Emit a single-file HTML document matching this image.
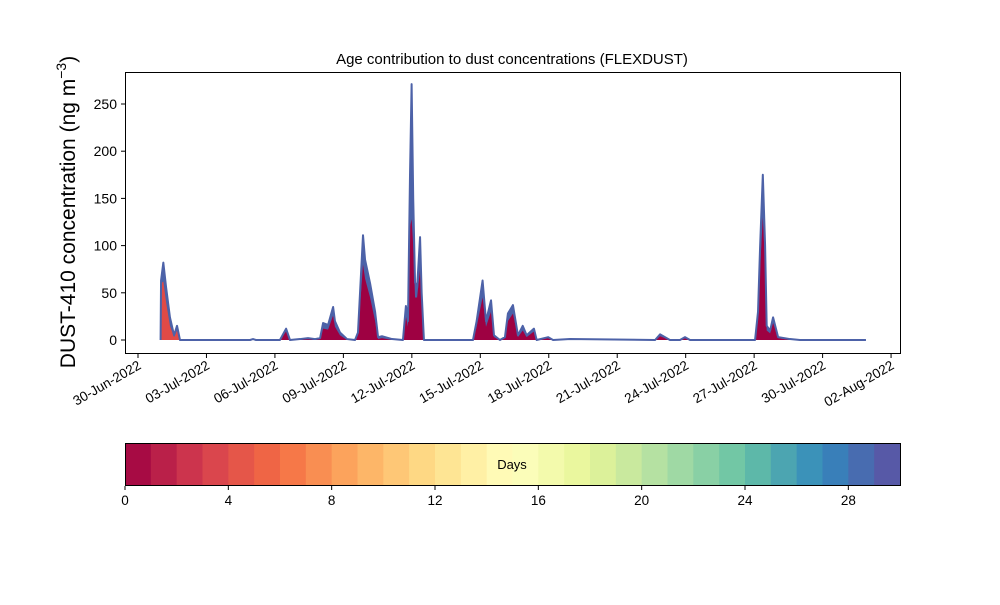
<!DOCTYPE html>
<html><head><meta charset="utf-8"><style>
body{margin:0;background:#fff;width:1000px;height:600px;overflow:hidden}
svg text{font-family:"Liberation Sans",sans-serif}
</style></head><body>
<svg id="chart" width="1000" height="600">
<text x="512" y="64" text-anchor="middle" font-size="15">Age contribution to dust concentrations (FLEXDUST)</text>
<text transform="translate(75,212) rotate(-90)" text-anchor="middle" font-size="21">DUST-410 concentration (ng m<tspan font-size="14" dy="-9">−3</tspan><tspan dy="9">)</tspan></text>
<g id="plot"></g>
<g id="cbar"></g>
</svg>
<script>
// time in days since 30-Jun-2022 00:00
const days=[0.99,1.01,1.11,1.23,1.40,1.58,1.71,1.84,4.91,5.04,5.17,6.22,6.49,6.66,7.10,7.45,7.76,7.98,8.11,8.33,8.55,8.63,8.85,9.16,9.51,9.64,9.86,9.95,10.17,10.39,10.52,10.69,11.13,11.61,11.74,11.83,11.92,11.99,12.06,12.14,12.23,12.36,12.43,12.53,14.68,14.84,15.10,15.25,15.47,15.60,15.86,16.08,16.21,16.43,16.65,16.86,17.03,17.35,17.47,17.97,18.19,18.93,22.66,22.88,23.31,23.75,23.97,24.19,27.04,27.17,27.26,27.38,27.48,27.55,27.70,27.83,28.05,28.57,29.01,31.90];
const total=[0,63,82,56,24,5,15,0,0,1,0,0,12,0,1,2,1,2,18,16,35,20,8,1,0,8,111,85,60,30,3,4,1,0,36,20,175,271,150,61,55,109,50,0,0,20,63,20,42,5,0,3,28,37,5,15,5,12,0,3,0,1,0,6,0,0,3,0,0,30,98,175,100,15,10,24,3,1,0,0];
const young=[0,0,0,0,0,0,0,0,0,0,0,0,9,0,0,1,0,1,12,11,26,14,5,0,0,5,80,65,45,20,1,2,0,0,25,14,120,128,100,45,45,75,35,0,0,14,45,14,30,3,0,2,20,28,3,10,3,9,0,2,0,0,0,4,0,0,2,0,0,20,75,130,80,10,7,18,2,0,0,0];
const mid=[60,60,62,40,15,3,10,0,0,0,0,0,0,0,0,0,0,0,0,0,0,0,0,0,0,0,0,0,0,0,0,0,0,0,0,0,0,0,0,0,0,0,0,0,0,0,0,0,0,0,0,0,0,0,0,0,0,0,0,0,0,0,0,0,0,0,0,0,0,0,0,0,0,0,0,0,0,0,0,0];
const yTicks=[0,50,100,150,200,250];
const xTickLabels=["30-Jun-2022","03-Jul-2022","06-Jul-2022","09-Jul-2022","12-Jul-2022","15-Jul-2022","18-Jul-2022","21-Jul-2022","24-Jul-2022","27-Jul-2022","30-Jul-2022","02-Aug-2022"];
const xTickDays=[0,3,6,9,12,15,18,21,24,27,30,33];
const cbarTicks=[0,4,8,12,16,20,24,28];

const NS="http://www.w3.org/2000/svg";
const X=d=>138+d*22.82, Y=v=>340-v*0.944;
const plot=document.getElementById('plot');
function mk(tag,attrs,parent){const e=document.createElementNS(NS,tag);for(const k in attrs)e.setAttribute(k,attrs[k]);(parent||plot).appendChild(e);return e;}
function area(vals,base){let d='M'+X(days[0])+','+Y(base?base[0]:0);
 days.forEach((t,i)=>d+='L'+X(t)+','+Y(vals[i]+(base?base[i]:0)));
 for(let i=days.length-1;i>=0;i--)d+='L'+X(days[i])+','+Y(base?base[i]:0);return d+'Z';}
const tot=mk('path',{d:area(total),fill:'#4a62a8'});


const midA=mk('path',{d:area(mid),fill:'#e04a46'});


const yA=mk('path',{d:area(young),fill:'#9e0142'});


let ld='';days.forEach((t,i)=>ld+=(i?'L':'M')+X(t)+','+Y(total[i]));
const ln=mk('path',{d:ld,fill:'none',stroke:'#4d62a8','stroke-width':2,'stroke-linejoin':'round'});


const frame=mk('rect',{x:125.5,y:72.5,width:775,height:281,fill:'none',stroke:'#000','stroke-width':1});


yTicks.forEach(v=>{mk('line',{x1:121,x2:125,y1:Y(v),y2:Y(v),stroke:'#000'});
 const t=mk('text',{x:117,y:Y(v)+5,'text-anchor':'end','font-size':14});t.textContent=v;
 
 });
xTickDays.forEach((d,i)=>{mk('line',{x1:X(d),x2:X(d),y1:354,y2:358,stroke:'#000'});
 const t=mk('text',{transform:`translate(${X(d)+4},${368}) rotate(-30)`,'text-anchor':'end','font-size':13.5});t.textContent=xTickLabels[i];
 
 });
// colorbar
const cb=document.getElementById('cbar');
const anchors=['9e0142','d53e4f','f46d43','fdae61','fee08b','ffffbf','e6f598','abdda4','66c2a5','3288bd','5e4fa2'].map(h=>[0,2,4].map(i=>parseInt(h.substr(i,2),16)));
function spectral(f){const p=f*10,i=Math.min(9,Math.floor(p)),r=p-i;return 'rgb('+anchors[i].map((c,k)=>Math.round(c+(anchors[i+1][k]-c)*r)).join(',')+')';}
const cw=775/30;
for(let i=0;i<30;i++){const r=mk('rect',{x:125+i*cw,y:443,width:cw+0.5,height:42,fill:spectral((i+0.5)/30)},cb);
 
 }
mk('rect',{x:125.5,y:443.5,width:775,height:42,fill:'none',stroke:'#000'},cb);
const dl=mk('text',{x:512,y:469,'text-anchor':'middle','font-size':13},cb);dl.textContent='Days';


cbarTicks.forEach(v=>{const x=125+v*cw;mk('line',{x1:x,x2:x,y1:486,y2:490,stroke:'#000'},cb);
 const t=mk('text',{x:x,y:505,'text-anchor':'middle','font-size':13.5},cb);t.textContent=v;
 
 });
</script>
</body></html>
